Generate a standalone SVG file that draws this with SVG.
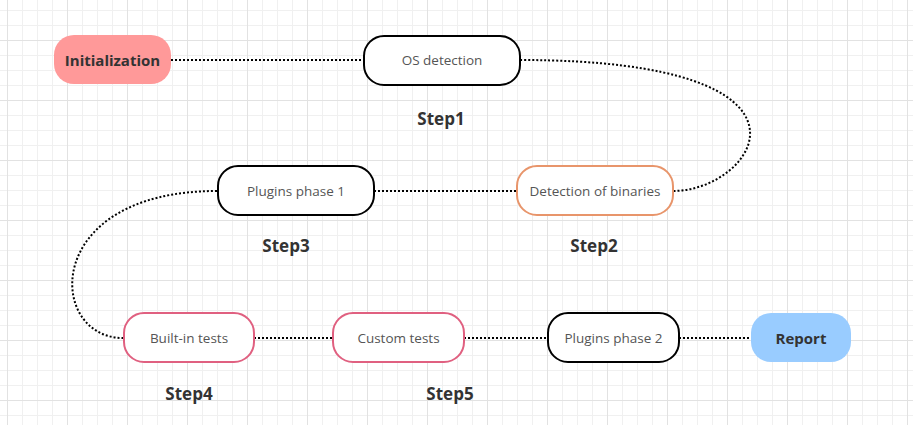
<svg xmlns="http://www.w3.org/2000/svg" width="913" height="425" viewBox="0 0 913 425">
  <defs>
    <pattern id="minor" x="7" y="10" width="15" height="15" patternUnits="userSpaceOnUse">
      <path d="M0.5 0V15M0 0.5H15" fill="none" stroke="#f0f0f0" stroke-width="1"/>
    </pattern>
    <pattern id="major" x="7" y="40" width="60" height="60" patternUnits="userSpaceOnUse">
      <path d="M0.5 0V60M0 0.5H60" fill="none" stroke="#e2e2e2" stroke-width="1"/>
    </pattern>
    <style>
      .box { stroke-width: 2; fill: #ffffff; }
      .lbl { font-family: "Open Sans", "Noto Sans", sans-serif; font-size: 13.5px; fill: #555555; text-anchor: middle; dominant-baseline: central; }
      .bold { font-family: "Open Sans", "Noto Sans", sans-serif; font-weight: bold; font-size: 15px; fill: #333333; text-anchor: middle; dominant-baseline: central; }
      .step { font-family: "Open Sans", "Noto Sans", sans-serif; font-weight: bold; font-size: 17px; fill: #333333; text-anchor: middle; dominant-baseline: central; }
      .conn { fill: none; stroke: #000000; stroke-width: 2; stroke-dasharray: 2 2; }
    </style>
  </defs>
  <rect width="913" height="425" fill="#ffffff"/>
  <rect width="913" height="425" fill="url(#minor)"/>
  <rect width="913" height="425" fill="url(#major)"/>

  <g id="connectors">
    <path class="conn" d="M171 60H364"/>
    <path class="conn" d="M520 60C845 60 755 191 673 191"/>
    <path class="conn" d="M516 191H374"/>
    <path class="conn" d="M217 191C40 191 47 338 123 338"/>
    <path class="conn" d="M254 338H332"/>
    <path class="conn" d="M464 338H548"/>
    <path class="conn" d="M679 338H751"/>
  </g>

  <g id="initialization">
    <rect x="54" y="35" width="117" height="49" rx="20" fill="#ff9999"/>
    <text class="bold" x="112.5" y="60">Initialization</text>
  </g>
  <g id="os-detection">
    <rect class="box" x="364" y="36" width="156" height="49" rx="20" stroke="#000000"/>
    <text class="lbl" x="442" y="60">OS detection</text>
  </g>
  <g id="detection-binaries">
    <rect class="box" x="517" y="166" width="156" height="49" rx="20" stroke="#e8956b"/>
    <text class="lbl" x="595" y="191">Detection of binaries</text>
  </g>
  <g id="plugins-phase-1">
    <rect class="box" x="218" y="166" width="156" height="49" rx="20" stroke="#000000"/>
    <text class="lbl" x="296" y="191">Plugins phase 1</text>
  </g>
  <g id="built-in-tests">
    <rect class="box" x="124" y="313" width="130" height="49" rx="20" stroke="#e06080"/>
    <text class="lbl" x="189" y="338">Built-in tests</text>
  </g>
  <g id="custom-tests">
    <rect class="box" x="333" y="313" width="131" height="49" rx="20" stroke="#e06080"/>
    <text class="lbl" x="398.5" y="338">Custom tests</text>
  </g>
  <g id="plugins-phase-2">
    <rect class="box" x="548" y="313" width="131" height="49" rx="20" stroke="#000000"/>
    <text class="lbl" x="613.5" y="338">Plugins phase 2</text>
  </g>
  <g id="report">
    <rect x="751" y="313" width="100" height="49" rx="20" fill="#99ccff"/>
    <text class="bold" x="801" y="338">Report</text>
  </g>

  <g id="steps">
    <text class="step" x="441" y="118">Step1</text>
    <text class="step" x="594" y="245">Step2</text>
    <text class="step" x="286" y="245">Step3</text>
    <text class="step" x="189" y="393">Step4</text>
    <text class="step" x="450" y="393">Step5</text>
  </g>
</svg>
